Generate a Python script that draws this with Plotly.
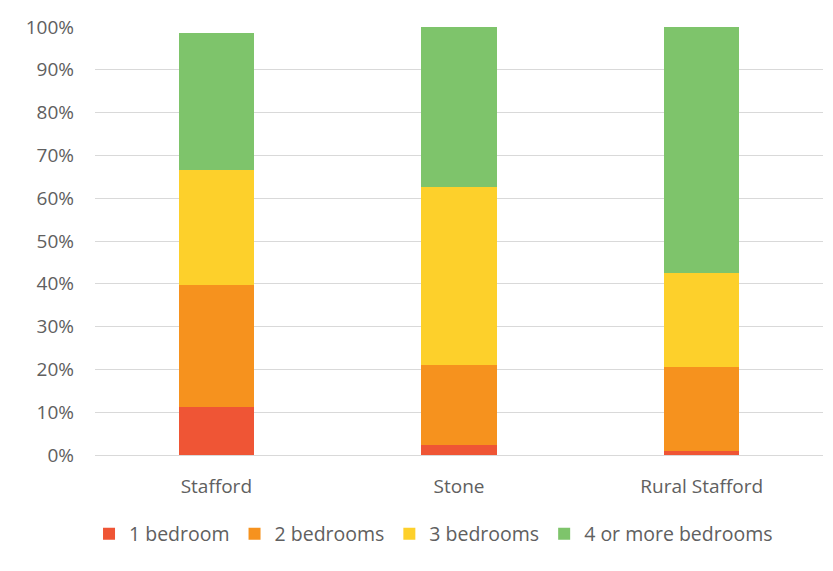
import plotly.graph_objects as go

# Share of homes by number of bedrooms, per area (percent)
areas = ["Stafford", "Stone", "Rural Stafford"]
one_bed = [11.3, 2.3, 1.0]
two_bed = [28.4, 18.7, 19.5]
three_bed = [26.8, 41.7, 22.0]
four_plus = [32.2, 37.3, 57.5]

series = [
    ("1 bedroom", one_bed, "#EF5535"),
    ("2 bedrooms", two_bed, "#F6921E"),
    ("3 bedrooms", three_bed, "#FDD02B"),
    ("4 or more bedrooms", four_plus, "#7EC46B"),
]

fig = go.Figure()
for name, vals, color in series:
    fig.add_trace(go.Bar(
        x=areas, y=vals, name=name,
        marker=dict(color=color, line=dict(width=0)),
    ))

fig.update_layout(
    barmode="stack",
    bargap=0.69,
    width=833, height=571,
    margin=dict(l=95, r=10, t=27, b=116),
    paper_bgcolor="white", plot_bgcolor="white",
    font=dict(family="Open Sans, sans-serif", size=19, color="#606060"),
    showlegend=True,
    legend=dict(
        orientation="h", x=0.465, xanchor="center", y=-0.185, yanchor="middle",
        font=dict(size=19.5, color="#606060"), traceorder="normal",
        itemwidth=30,
    ),
    xaxis=dict(
        showgrid=False, showline=True, linecolor="#D9D9D9", linewidth=1,
        ticks="", tickfont=dict(size=19, color="#606060"),
        ticklabelstandoff=14,
    ),
    yaxis=dict(
        range=[0, 100], tickvals=list(range(0, 101, 10)),
        ticktext=[f"{v}%" for v in range(0, 101, 10)],
        showgrid=True, gridcolor="#D9D9D9", gridwidth=1,
        zeroline=False, ticks="", ticklen=0,
        tickfont=dict(size=19, color="#606060"),
        ticklabelstandoff=20,
    ),
)

fig.write_html("out.html")
